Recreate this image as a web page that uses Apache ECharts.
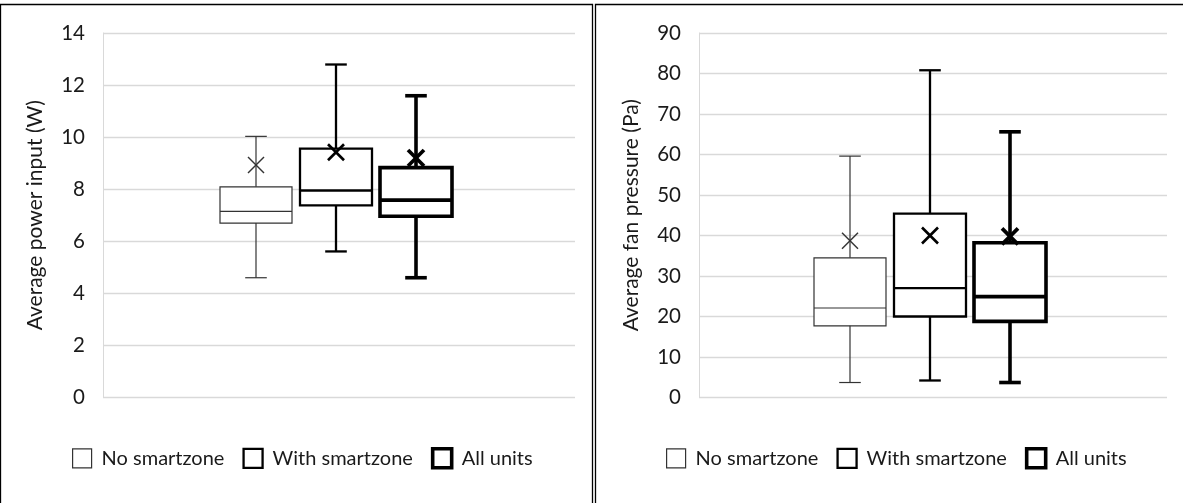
<!DOCTYPE html>
<html><head><meta charset="utf-8">
<script src="https://cdn.jsdelivr.net/npm/echarts@6/dist/echarts.min.js"></script>
<style>html,body{margin:0;padding:0;background:#fff}#c{width:1183px;height:503px}</style>
</head><body><div id="c"></div>
<script>
// ---- data ----
const groups = ['No smartzone', 'With smartzone', 'All units'];
const powerMin    = [4.60, 5.61, 4.60];
const powerQ1     = [6.70, 7.38, 6.96];
const powerMedian = [7.15, 7.95, 7.58];
const powerQ3     = [8.09, 9.56, 8.83];
const powerMax    = [10.03, 12.79, 11.59];
const powerMean   = [8.93, 9.42, 9.20];
const pressureMin    = [3.7, 4.2, 3.7];
const pressureQ1     = [17.7, 20.0, 18.8];
const pressureMedian = [22.1, 27.0, 24.9];
const pressureQ3     = [34.5, 45.4, 38.2];
const pressureMax    = [59.6, 80.8, 65.6];
const pressureMean   = [38.7, 40.0, 39.8];
const powerAxisName = 'Average power input (W)';
const pressureAxisName = 'Average fan pressure (Pa)';

// ---- styles ----
const FONT = 'Lato, "Open Sans", sans-serif';
const TXT = '#1a1a1a';
const GRIDC = '#d9d9d9';
const boxStyles = [
  { color: '#333333', width: 1.2, mark: 1.4 },
  { color: '#000000', width: 2.3, mark: 2.6 },
  { color: '#000000', width: 3.6, mark: 3.8 }
];

function makeRender(st) {
  return function (params, api) {
    const i = api.value(0);
    const y = v => api.coord([i, v])[1];
    const cx = api.coord([i, api.value(3)])[0];
    const band = api.size([1, 0])[0];
    const bw = band * 0.9;
    const cap = band * 0.27;
    const yMin = y(api.value(1)), yQ1 = y(api.value(2)), yMed = y(api.value(3)),
          yQ3 = y(api.value(4)), yMax = y(api.value(5)), yMean = y(api.value(6));
    const ls = { stroke: st.color, lineWidth: st.width, fill: null };
    const ms = { stroke: st.color, lineWidth: st.mark, fill: null };
    const m = 8;
    return {
      type: 'group',
      children: [
        { type: 'rect', shape: { x: cx - bw / 2, y: yQ3, width: bw, height: yQ1 - yQ3 },
          style: { fill: '#fff', stroke: st.color, lineWidth: st.width } },
        { type: 'line', shape: { x1: cx - bw / 2, y1: yMed, x2: cx + bw / 2, y2: yMed }, style: ls },
        { type: 'line', shape: { x1: cx, y1: yMax, x2: cx, y2: yQ3 }, style: ls },
        { type: 'line', shape: { x1: cx, y1: yQ1, x2: cx, y2: yMin }, style: ls },
        { type: 'line', shape: { x1: cx - cap / 2, y1: yMax, x2: cx + cap / 2, y2: yMax }, style: ls },
        { type: 'line', shape: { x1: cx - cap / 2, y1: yMin, x2: cx + cap / 2, y2: yMin }, style: ls },
        { type: 'line', shape: { x1: cx - m, y1: yMean - m, x2: cx + m, y2: yMean + m }, style: ms },
        { type: 'line', shape: { x1: cx - m, y1: yMean + m, x2: cx + m, y2: yMean - m }, style: ms }
      ]
    };
  };
}

function seriesFor(stats, axisIdx) {
  return groups.map((g, i) => ({
    type: 'custom', name: g, xAxisIndex: axisIdx, yAxisIndex: axisIdx,
    data: [[i, stats[0][i], stats[1][i], stats[2][i], stats[3][i], stats[4][i], stats[5][i]]],
    encode: { x: 0, y: [1, 2, 3, 4, 5, 6] },
    renderItem: makeRender(boxStyles[i])
  }));
}

function legendFor(left) {
  return {
    left: left, top: 447, padding: 0, orient: 'horizontal', selectedMode: false,
    itemWidth: 19, itemHeight: 19, itemGap: 18,
    textStyle: { fontSize: 20, fontFamily: FONT, color: TXT, padding: [0, 0, 0, 5] },
    data: groups.map((g, i) => ({
      name: g, icon: 'rect',
      itemStyle: { color: '#fff', borderColor: boxStyles[i].color, borderWidth: boxStyles[i].width }
    }))
  };
}

function mainY(gridIndex, max, interval, name) {
  return {
    gridIndex, type: 'value', min: 0, max, interval,
    name, nameLocation: 'middle', nameGap: 57,
    nameTextStyle: { fontSize: 21, fontFamily: FONT, color: TXT },
    axisLine: { show: true, lineStyle: { color: GRIDC, width: 1 } },
    axisTick: { show: false },
    axisLabel: { fontSize: 20.5, fontFamily: FONT, color: TXT, margin: 18 },
    splitLine: { lineStyle: { color: GRIDC, width: 1.3 } }
  };
}
function innerY(gridIndex, max, interval) {
  return { gridIndex, type: 'value', min: 0, max, interval, show: false, splitLine: { show: false } };
}

const TOP = 33, H = 364.5;
const option = {
  animation: false,
  backgroundColor: '#fff',
  grid: [
    { left: 103, width: 472, top: TOP, height: H },
    { left: 216, width: 240, top: TOP, height: H },
    { left: 699, width: 468, top: TOP, height: H },
    { left: 810, width: 240, top: TOP, height: H }
  ],
  xAxis: [
    { gridIndex: 0, type: 'category', data: [''], show: false },
    { gridIndex: 1, type: 'category', data: groups, show: false },
    { gridIndex: 2, type: 'category', data: [''], show: false },
    { gridIndex: 3, type: 'category', data: groups, show: false }
  ],
  yAxis: [
    mainY(0, 14, 2, powerAxisName),
    innerY(1, 14, 2),
    mainY(2, 90, 10, pressureAxisName),
    innerY(3, 90, 10)
  ],
  legend: [legendFor(72), legendFor(666)],
  series: [
    ...seriesFor([powerMin, powerQ1, powerMedian, powerQ3, powerMax, powerMean], 1),
    ...seriesFor([pressureMin, pressureQ1, pressureMedian, pressureQ3, pressureMax, pressureMean], 3)
  ],
  graphic: [
    { type: 'rect', silent: true, shape: { x: 0.5, y: 4.5, width: 592, height: 520 },
      style: { fill: null, stroke: '#000', lineWidth: 1.3 } },
    { type: 'rect', silent: true, shape: { x: 595.5, y: 4.5, width: 620, height: 520 },
      style: { fill: null, stroke: '#000', lineWidth: 1.3 } }
  ]
};
const chart = echarts.init(document.getElementById('c'), null, { renderer: 'canvas' });
chart.setOption(option);
</script></body></html>
